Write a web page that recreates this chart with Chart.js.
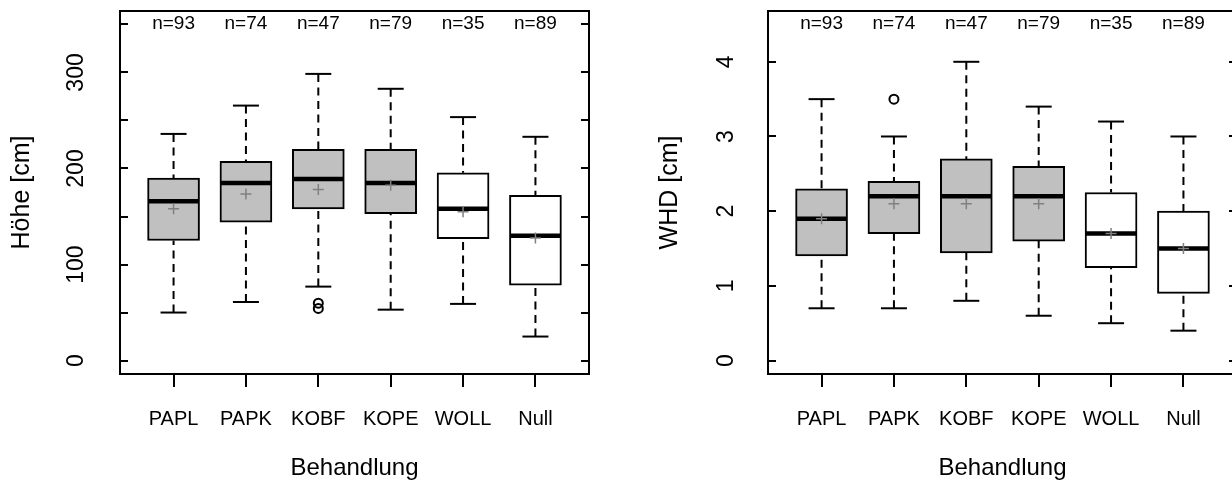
<!DOCTYPE html>
<html>
<head>
<meta charset="utf-8">
<script src="https://cdn.jsdelivr.net/npm/chart.js@4.4.1/dist/chart.umd.min.js"></script>
<style>
  html, body { margin: 0; padding: 0; background: #fff; overflow: hidden; }
  .panel { position: absolute; top: 0; width: 616px; height: 490px; }
</style>
</head>
<body>
<div class="panel" style="left:0"><canvas id="hoehe" width="616" height="490"></canvas></div>
<div class="panel" style="left:648px"><canvas id="whd" width="616" height="490"></canvas></div>
<script>
const categories = ['PAPL', 'PAPK', 'KOBF', 'KOPE', 'WOLL', 'Null']
const nCounts = [93, 74, 47, 79, 35, 89]

// Höhe [cm]
const hoeheMin = [50, 61, 77, 53, 59, 25]
const hoeheQ1 = [125, 144, 158, 153, 127, 78.5]
const hoeheMedian = [166, 185, 189, 185, 158, 130]
const hoeheQ3 = [190, 207.5, 220, 220, 195.5, 172]
const hoeheMax = [236, 265.5, 298.5, 283, 253.5, 233]
const hoeheMean = [158, 173.5, 178, 182.5, 155, 127.5]
const hoeheOutliers = [{ group: 'KOBF', value: 59.8 }, { group: 'KOBF', value: 54.3 }]

// WHD [cm]
const whdMin = [0.7, 0.7, 0.8, 0.6, 0.5, 0.4]
const whdQ1 = [1.4, 1.7, 1.44, 1.6, 1.245, 0.9]
const whdMedian = [1.9, 2.2, 2.2, 2.2, 1.7, 1.5]
const whdQ3 = [2.3, 2.4, 2.7, 2.6, 2.25, 2.0]
const whdMax = [3.5, 3.0, 4.0, 3.4, 3.2, 3.0]
const whdMean = [1.9, 2.1, 2.1, 2.1, 1.7, 1.5]
const whdOutliers = [{ group: 'PAPK', value: 3.5 }]

const FONT = "'Liberation Sans', Arial, Helvetica, sans-serif"
const GRAY = '#c0c0c0'
const boxColors = [GRAY, GRAY, GRAY, GRAY, '#ffffff', '#ffffff']
const BOX_W = 52
const CAP_W = 26
const LW = 2

function line (ctx, x1, y1, x2, y2) {
  ctx.beginPath()
  ctx.moveTo(x1, y1)
  ctx.lineTo(x2, y2)
  ctx.stroke()
}

// whiskers, caps and medians, drawn right after the boxes
function boxplotPlugin (p) {
  return {
    id: 'boxplot',
    afterDatasetDraw (chart, args) {
      if (args.index !== 0) return
      const { ctx, scales: { x, y } } = chart
      ctx.save()
      ctx.strokeStyle = '#000'
      categories.forEach((c, i) => {
        const px = x.getPixelForValue(i + 1)
        const yMin = y.getPixelForValue(p.min[i])
        const yMax = y.getPixelForValue(p.max[i])
        ctx.lineWidth = LW
        ctx.setLineDash([8, 5.5])
        line(ctx, px, yMax, px, y.getPixelForValue(p.q3[i]))
        line(ctx, px, yMin, px, y.getPixelForValue(p.q1[i]))
        ctx.setLineDash([])
        line(ctx, px - CAP_W / 2, yMax, px + CAP_W / 2, yMax)
        line(ctx, px - CAP_W / 2, yMin, px + CAP_W / 2, yMin)
        const yMed = y.getPixelForValue(p.median[i])
        ctx.lineWidth = 4.5
        line(ctx, px - BOX_W / 2 + 1, yMed, px + BOX_W / 2 - 1, yMed)
      })
      ctx.restore()
    },
    afterDraw (chart) {
      const { ctx, chartArea: a, scales: { x } } = chart
      ctx.save()
      ctx.strokeStyle = '#000'
      ctx.lineWidth = LW
      ctx.strokeRect(a.left, a.top, a.right - a.left, a.bottom - a.top)
      ctx.fillStyle = '#000'
      ctx.font = '19px ' + FONT
      ctx.textAlign = 'center'
      ctx.textBaseline = 'alphabetic'
      nCounts.forEach((n, i) => {
        ctx.fillText('n=' + n, x.getPixelForValue(i + 1), a.top + 18)
      })
      ctx.restore()
    }
  }
}

function noPadding (s) {
  s.paddingTop = 0
  s.paddingBottom = 0
  s.paddingLeft = 0
  s.paddingRight = 0
}

function makeChart (id, p) {
  new Chart(document.getElementById(id), {
    type: 'bar',
    data: {
      datasets: [{
        type: 'bar',
        data: categories.map((c, i) => ({ x: i + 1, y: [p.q1[i], p.q3[i]] })),
        backgroundColor: boxColors,
        borderColor: '#000',
        borderWidth: LW,
        borderSkipped: false,
        barThickness: BOX_W,
        order: 2
      }, {
        type: 'scatter',
        data: p.mean.map((v, i) => ({ x: i + 1, y: v })),
        pointStyle: 'cross',
        radius: 5.5,
        borderColor: '#808080',
        borderWidth: 1.5,
        order: 1
      }, {
        type: 'scatter',
        data: p.outliers.map(o => ({ x: categories.indexOf(o.group) + 1, y: o.value })),
        pointStyle: 'circle',
        radius: 4.5,
        borderColor: '#000',
        backgroundColor: 'rgba(0,0,0,0)',
        borderWidth: LW,
        order: 0
      }]
    },
    options: {
      responsive: false,
      animation: false,
      events: [],
      layout: { padding: { top: 11, right: 27, left: 0, bottom: 0 } },
      plugins: { legend: { display: false }, tooltip: { enabled: false } },
      scales: {
        x: {
          type: 'linear',
          offset: false,
          min: 0.26,
          max: 6.74,
          afterBuildTicks: s => { s.ticks = categories.map((c, i) => ({ value: i + 1 })) },
          afterFit: s => { s.height = 116; noPadding(s) },
          border: { display: false },
          grid: { offset: false, drawOnChartArea: false, tickLength: 13, color: '#000', lineWidth: LW },
          ticks: {
            autoSkip: false,
            maxRotation: 0,
            padding: 20.8,
            color: '#000',
            font: { size: 20, family: FONT },
            callback: v => categories[v - 1]
          },
          title: {
            display: true,
            text: 'Behandlung',
            color: '#000',
            font: { size: 24, family: FONT },
            padding: { top: 0, bottom: 7.2 }
          }
        },
        y: {
          type: 'linear',
          min: p.yMin,
          max: p.yMax,
          afterFit: s => { s.width = 120; noPadding(s) },
          border: { display: false },
          grid: { drawOnChartArea: false, tickLength: -8, color: '#000', lineWidth: LW },
          ticks: {
            stepSize: p.step,
            includeBounds: false,
            autoSkip: false,
            minRotation: 90,
            maxRotation: 90,
            crossAlign: 'center',
            padding: p.labelPad,
            color: '#000',
            font: { size: 23, family: FONT },
            callback: p.tickLabel
          },
          title: {
            display: true,
            text: p.title,
            color: '#000',
            font: { size: 25, family: FONT },
            padding: { top: 7.5, bottom: 0 }
          }
        },
        y2: {
          type: 'linear',
          position: 'right',
          min: p.yMin,
          max: p.yMax,
          afterFit: s => { s.width = 0; noPadding(s) },
          border: { display: false },
          grid: { drawOnChartArea: false, tickLength: -8, color: '#000', lineWidth: LW },
          ticks: { display: false, stepSize: p.step, includeBounds: false }
        }
      }
    },
    plugins: [boxplotPlugin(p)]
  })
}

makeChart('hoehe', {
  min: hoeheMin, q1: hoeheQ1, median: hoeheMedian, q3: hoeheQ3, max: hoeheMax,
  mean: hoeheMean, outliers: hoeheOutliers,
  yMin: -14, yMax: 364, step: 50, labelPad: 32,
  tickLabel: v => (v % 100 === 0 ? String(v) : ''),
  title: 'Höhe [cm]'
})

makeChart('whd', {
  min: whdMin, q1: whdQ1, median: whdMedian, q3: whdQ3, max: whdMax,
  mean: whdMean, outliers: whdOutliers,
  yMin: -0.18, yMax: 4.68, step: 1, labelPad: 43,
  tickLabel: v => String(v),
  title: 'WHD [cm]'
})
</script>
</body>
</html>
